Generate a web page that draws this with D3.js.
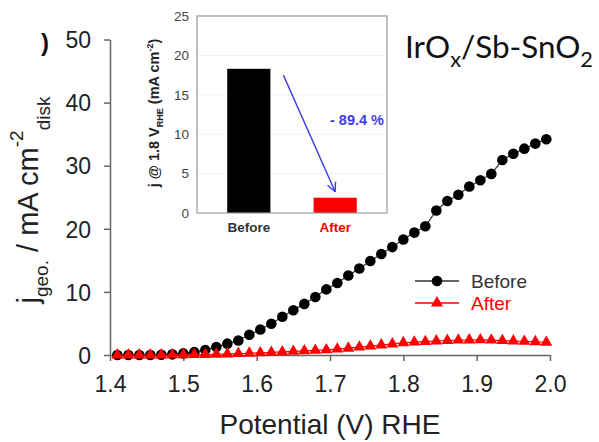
<!DOCTYPE html>
<html>
<head>
<meta charset="utf-8">
<script src="https://cdn.jsdelivr.net/npm/d3@7"></script>
<style>
  html, body { margin: 0; padding: 0; background: #fff; }
  svg { display: block; }
</style>
</head>
<body>
<svg id="chart" width="599" height="442"></svg>
<script>
// Potential sweep (V vs RHE)
const potential = [1.41, 1.425, 1.44, 1.455, 1.47, 1.485, 1.5, 1.515, 1.53, 1.545,
  1.56, 1.575, 1.59, 1.605, 1.62, 1.635, 1.65, 1.665, 1.68, 1.695,
  1.71, 1.725, 1.74, 1.755, 1.77, 1.785, 1.8, 1.815, 1.83, 1.845,
  1.86, 1.875, 1.89, 1.905, 1.92, 1.935, 1.95, 1.965, 1.98, 1.995];
// Geometric current density, mA cm^-2 (disk)
const currentBefore = [0, 0, 0, 0, 0.05, 0.1, 0.25, 0.45, 0.8, 1.25,
  1.8, 2.3, 3.2, 4.05, 4.95, 6.05, 7.1, 8.1, 9.2, 10.4,
  11.4, 12.6, 13.7, 14.9, 16.0, 17.1, 18.3, 19.4, 20.4, 22.9,
  24.4, 25.4, 26.7, 27.7, 28.7, 30.9, 31.9, 32.7, 33.5, 34.2];
const currentAfter = [0, 0, 0, 0, 0, 0.02, 0.04, 0.06, 0.08, 0.12,
  0.17, 0.22, 0.28, 0.35, 0.42, 0.5, 0.58, 0.66, 0.74, 0.82,
  0.93, 1.08, 1.25, 1.42, 1.58, 1.75, 1.94, 2.05, 2.12, 2.22,
  2.3, 2.36, 2.38, 2.4, 2.36, 2.28, 2.22, 2.16, 2.1, 2.0];

const xTicks = [1.4, 1.5, 1.6, 1.7, 1.8, 1.9, 2.0];
const yTicks = [0, 10, 20, 30, 40, 50];

// Inset: current density at 1.8 V_RHE
const insetCategories = ["Before", "After"];
const insetValues = [18.3, 1.94];
const insetTicks = [0, 5, 10, 15, 20, 25];
const reductionLabel = "- 89.4 %";

const seriesNames = ["Before", "After"];
const seriesColors = ["#000000", "#ff0000"];

const svg = d3.select("#chart");
const FONT = "'Liberation Sans', Arial, sans-serif";
const AXIS_COLOR = "#666";

// ---------- main plot ----------
const x = d3.scaleLinear().domain([1.4, 2.0]).range([110, 550]);
const y = d3.scaleLinear().domain([0, 50]).range([355, 39.5]);

const xAxis = svg.append("g")
  .attr("transform", `translate(0,${y(0)})`)
  .call(d3.axisBottom(x).tickValues(xTicks).tickFormat(d3.format(".1f"))
    .tickSize(6).tickSizeOuter(0).tickPadding(15));
const yAxis = svg.append("g")
  .attr("transform", `translate(${x(1.4)},0)`)
  .call(d3.axisLeft(y).tickValues(yTicks).tickFormat(d3.format("d"))
    .tickSize(6).tickSizeOuter(0).tickPadding(13));

[xAxis, yAxis].forEach(g => {
  g.select(".domain").attr("stroke", AXIS_COLOR).attr("stroke-width", 1.5);
  g.selectAll(".tick line").attr("stroke", AXIS_COLOR).attr("stroke-width", 1.5);
  g.selectAll(".tick text").attr("fill", "#222").style("font-family", FONT).style("font-size", "23px");
});
yAxis.selectAll(".tick text").attr("dy", "0.36em");

// Axis titles
svg.append("text")
  .attr("x", (x(1.4) + x(2.0)) / 2).attr("y", 434)
  .attr("text-anchor", "middle")
  .style("font-family", FONT).style("font-size", "28px").attr("fill", "#222")
  .text("Potential (V) RHE");

const yTitle = svg.append("text")
  .attr("transform", "translate(38,200) rotate(-90)")
  .attr("text-anchor", "middle")
  .style("font-family", FONT).style("font-size", "29px").attr("fill", "#222");
yTitle.append("tspan").text("j");
yTitle.append("tspan").attr("dy", 10).style("font-size", "19px").text("geo.");
yTitle.append("tspan").attr("dy", -10).text(" / mA cm");
yTitle.append("tspan").attr("dy", -15).style("font-size", "19px").text("-2");
yTitle.append("tspan").attr("dy", 27).style("font-size", "19px").text("disk");

svg.append("text")
  .attr("x", 41).attr("y", 51)
  .style("font-family", FONT).style("font-size", "24px").style("font-weight", "bold")
  .attr("fill", "#111")
  .text(")");

// Series lines and markers
const rows = potential.map((p, i) => ({ p, before: currentBefore[i], after: currentAfter[i] }));
const line = key => d3.line().x(d => x(d.p)).y(d => y(d[key]));

svg.append("path").datum(rows)
  .attr("fill", "none").attr("stroke", "#333").attr("stroke-width", 1.2)
  .attr("d", line("before"));
svg.append("g").selectAll("circle").data(rows).join("circle")
  .attr("cx", d => x(d.p)).attr("cy", d => y(d.before)).attr("r", 5.3)
  .attr("fill", seriesColors[0]);

svg.append("path").datum(rows)
  .attr("fill", "none").attr("stroke", seriesColors[1]).attr("stroke-width", 1.2)
  .attr("d", line("after"));
const tri = d3.symbol().type(d3.symbolTriangle).size(62);
svg.append("g").selectAll("path").data(rows).join("path")
  .attr("transform", d => `translate(${x(d.p)},${y(d.after)})`)
  .attr("d", tri).attr("fill", seriesColors[1]);

// Legend
const legend = svg.append("g").attr("transform", "translate(415,281)");
seriesNames.forEach((name, i) => {
  const g = legend.append("g").attr("transform", `translate(0,${i * 22})`);
  g.append("line").attr("x1", 0).attr("x2", 44).attr("y1", 0).attr("y2", 0)
    .attr("stroke", i === 0 ? "#333" : seriesColors[1]).attr("stroke-width", 1.3);
  if (i === 0) {
    g.append("circle").attr("cx", 22).attr("cy", 0).attr("r", 5.3).attr("fill", seriesColors[0]);
  } else {
    g.append("path").attr("transform", "translate(22,0)").attr("d", tri).attr("fill", seriesColors[1]);
  }
  g.append("text").attr("x", 56).attr("y", 7)
    .style("font-family", FONT).style("font-size", "19px")
    .attr("fill", i === 0 ? "#333" : seriesColors[1])
    .text(name);
});

// ---------- inset bar chart ----------
const xi = d3.scaleBand().domain(insetCategories).range([197, 387])
  .paddingInner(0.5).paddingOuter(0.35);
const yi = d3.scaleLinear().domain([0, 25]).range([213, 16]);

const inset = svg.append("g");
inset.append("rect")
  .attr("x", 197).attr("y", yi(25)).attr("width", 190).attr("height", yi(0) - yi(25))
  .attr("fill", "#fff");
inset.append("g").selectAll("line").data(insetTicks.slice(1, -1)).join("line")
  .attr("x1", 197).attr("x2", 387).attr("y1", d => yi(d)).attr("y2", d => yi(d))
  .attr("stroke", "#f0f0f0").attr("stroke-width", 1);

inset.append("g").selectAll("rect").data(insetCategories).join("rect")
  .attr("x", d => xi(d)).attr("width", xi.bandwidth())
  .attr("y", (d, i) => yi(insetValues[i]))
  .attr("height", (d, i) => yi(0) - yi(insetValues[i]))
  .attr("fill", (d, i) => seriesColors[i]);

inset.append("rect")
  .attr("x", 197).attr("y", yi(25)).attr("width", 190).attr("height", yi(0) - yi(25))
  .attr("fill", "none").attr("stroke", "#999").attr("stroke-width", 1.2);

const yiAxis = inset.append("g").attr("transform", "translate(197,0)")
  .call(d3.axisLeft(yi).tickValues(insetTicks).tickSize(0).tickPadding(8));
yiAxis.select(".domain").remove();
yiAxis.selectAll(".tick text").attr("fill", "#444")
  .style("font-family", FONT).style("font-size", "13.5px");

const xiAxis = inset.append("g").attr("transform", `translate(0,${yi(0)})`)
  .call(d3.axisBottom(xi).tickSize(0).tickPadding(9));
xiAxis.select(".domain").remove();
xiAxis.selectAll(".tick text")
  .attr("fill", (d, i) => i === 0 ? "#333" : seriesColors[1])
  .style("font-family", FONT).style("font-size", "13.5px").style("font-weight", "bold");

const yiTitle = inset.append("text")
  .attr("transform", "translate(159,113) rotate(-90)")
  .attr("text-anchor", "middle")
  .style("font-family", FONT).style("font-size", "14.5px").style("font-weight", "bold")
  .attr("fill", "#222");
yiTitle.append("tspan").text("j @ 1.8 V");
yiTitle.append("tspan").attr("dy", 4).style("font-size", "9px").text("RHE");
yiTitle.append("tspan").attr("dy", -4).text(" (mA cm");
yiTitle.append("tspan").attr("dy", -6).style("font-size", "9px").text("-2");
yiTitle.append("tspan").attr("dy", 6).text(")");

// Reduction arrow from the "Before" bar down to the "After" bar
const blue = "#3c3ce6";
const ax0 = xi("Before") + xi.bandwidth() + 13, ay0 = yi(17.5);
const ax1 = xi("After") + xi.bandwidth() / 2, ay1 = yi(2.7);
inset.append("line").attr("x1", ax0).attr("y1", ay0).attr("x2", ax1).attr("y2", ay1)
  .attr("stroke", blue).attr("stroke-width", 1.4);
const ang = Math.atan2(ay1 - ay0, ax1 - ax0);
[-0.45, 0.45].forEach(da => {
  const a = ang + Math.PI + da;
  inset.append("line").attr("x1", ax1).attr("y1", ay1)
    .attr("x2", ax1 + 10 * Math.cos(a)).attr("y2", ay1 + 10 * Math.sin(a))
    .attr("stroke", blue).attr("stroke-width", 1.4);
});
inset.append("text")
  .attr("x", 357).attr("y", 125).attr("text-anchor", "middle")
  .style("font-family", FONT).style("font-size", "14.5px").style("font-weight", "bold")
  .attr("fill", blue).text(reductionLabel);

// ---------- sample label ----------
const title = svg.append("text")
  .attr("x", 405).attr("y", 58)
  .style("font-family", "Lato, 'Open Sans', sans-serif").style("font-size", "26px")
  .attr("fill", "#111");
title.append("tspan").text("IrO");
title.append("tspan").attr("dy", 9).style("font-size", "18px").text("x");
title.append("tspan").attr("dy", -9).text("/Sb-SnO");
title.append("tspan").attr("dy", 9).style("font-size", "18px").text("2");
// fit the label into its slot next to the inset
const tw = title.node().getComputedTextLength();
const scale = 188 / tw;
title.style("font-size", (26 * scale) + "px");
title.selectAll("tspan").filter((d, i) => i % 2 === 1).style("font-size", (18 * scale) + "px");
</script>
</body>
</html>
